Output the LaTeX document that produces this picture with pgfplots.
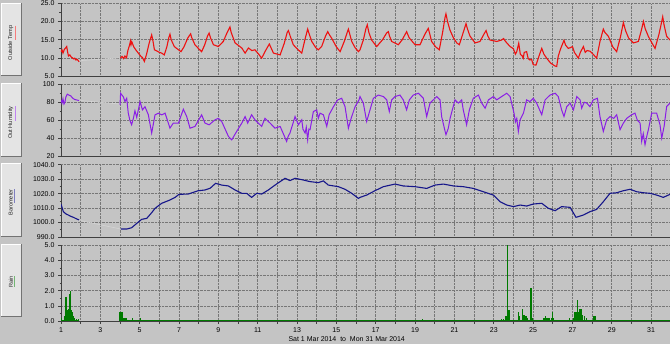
\documentclass[border=0pt]{standalone}
\usepackage{fontspec}
\setmainfont{Liberation Sans}
\usepackage{pgfplots}
\pgfplotsset{compat=1.18}
\definecolor{bg}{HTML}{C4C4C4}
\definecolor{boxbg}{HTML}{E4E4E4}
\definecolor{gridc}{HTML}{777777}
\definecolor{tempc}{HTML}{EE1111}
\definecolor{humc}{HTML}{8A1EE6}
\definecolor{baroc}{HTML}{16168A}
\definecolor{rainc}{HTML}{007A00}
\definecolor{gapc}{HTML}{D4D4D4}
\pgfplotsset{
 panel/.style={
  scale only axis, width=609pt, xmin=1, xmax=31.96,
  axis x line=bottom, axis y line=left,
  axis line style={-, draw=black!75, line width=0.9pt},
  xtick={1,...,31}, xticklabels={},
  x tick style={draw=none},
  grid=major, major grid style={densely dotted, gridc, line width=0.6pt},
  tick align=outside, major tick length=3pt, minor tick length=1.5pt,
  y tick style={black!75, line width=0.6pt},
  minor y tick num=1,
  tick label style={font=\fontsize{7}{8}\selectfont, black},
  /pgf/number format/assume math mode=true,
  yticklabel style={/pgf/number format/fixed, /pgf/number format/fixed zerofill,
    /pgf/number format/precision=1, /pgf/number format/1000 sep={}},
 }
}
\newcommand{\labelbox}[6]{% top, bottom, text, color, underline length, text shift up
  \fill[boxbg] (1pt,-#1pt) rectangle (22pt,-#2pt);
  \draw[white, line width=0.8pt] (1.4pt,-#2pt) -- (1.4pt,-#1pt) -- (22pt,-#1pt);
  \draw[black!55, line width=0.8pt] (1pt,-#2pt) -- (21.6pt,-#2pt) -- (21.6pt,-#1pt);
  \node[rotate=90, font=\fontsize{5.6}{6}\selectfont, inner sep=0pt, text=black!85] (lb) at (10.8pt,-{(#1+#2)/2-#6}pt) {#3};
  \draw[#4!55!white, line width=1.3pt] ([xshift=1.6pt]lb.south east) -- ++(0,-#5pt);
}
\begin{document}
\begin{tikzpicture}
\path[use as bounding box] (0,0) rectangle (670pt,-344pt);
\fill[bg] (0,0) rectangle (670pt,-344pt);
\labelbox{3}{75}{Outside Temp}{tempc}{14}{4}
\labelbox{83}{156}{Out Humidity}{humc}{15}{3}
\labelbox{163}{236}{Barometer}{baroc}{14}{3}
\labelbox{244}{316}{Rain}{rainc}{11}{2}

% ---------- Temperature ----------
\begin{axis}[panel, at={(61pt,-76pt)}, anchor=south west, height=72.7pt,
  ymin=5, ymax=25, ytick={5,10,...,25}]
\addplot[gapc, line width=0.6pt] coordinates {(1.93,9.2) (4.0,10.0)};
\addplot[tempc, line width=1.1pt] coordinates {
(1.00,11.6) (1.05,12.2) (1.10,11.3) (1.17,12.3) (1.22,12.6) (1.29,13.1) (1.34,11.5) (1.38,10.5) (1.45,10.8) (1.52,10.2) (1.58,10.0) (1.65,9.7) (1.70,9.9) (1.76,9.4) (1.82,9.6) (1.88,9.2) (1.92,8.9)};
\addplot[tempc, line width=1.1pt] coordinates {
(4.02,9.9) (4.10,10.4) (4.18,9.8) (4.25,10.5) (4.33,10.0) (4.40,12.0) (4.48,13.4) (4.53,14.6) (4.56,13.6) (4.60,14.4) (4.70,13.0) (4.80,12.2) (4.93,11.3) (5.05,10.5) (5.15,10.0) (5.24,9.0) (5.35,11.0) (5.48,14.0) (5.61,16.3) (5.68,14.5) (5.75,12.2) (5.90,11.8) (6.00,11.5) (6.12,11.3) (6.25,10.8) (6.38,13.0) (6.48,15.5) (6.54,16.5) (6.60,15.0) (6.76,13.1) (6.90,12.5) (7.10,11.7) (7.25,13.0) (7.45,15.5) (7.59,16.6) (7.65,15.5) (7.81,13.6) (8.00,12.5) (8.15,11.7) (8.30,13.5) (8.45,16.0) (8.53,16.8) (8.60,15.5) (8.75,13.6) (9.00,13.1) (9.25,14.5) (9.45,17.0) (9.59,18.5) (9.65,17.0) (9.85,14.1) (10.00,13.5) (10.19,12.7) (10.36,11.3) (10.53,12.7) (10.70,12.0) (10.86,12.2) (11.05,11.0) (11.20,9.9) (11.40,12.0) (11.59,13.8) (11.70,12.5) (11.80,11.3) (12.14,10.8) (12.35,14.0) (12.50,17.0) (12.56,17.5) (12.65,16.0) (12.81,13.6) (13.00,12.5) (13.24,11.3) (13.40,15.0) (13.54,17.9) (13.62,16.5) (13.75,14.5) (13.95,12.8) (14.08,12.2) (14.25,13.1) (14.45,16.0) (14.56,17.2) (14.66,16.2) (14.76,15.4) (15.00,13.0) (15.19,11.7) (15.40,14.5) (15.55,17.0) (15.61,17.9) (15.68,16.5) (15.78,14.5) (15.95,12.8) (16.12,11.7) (16.20,12.2) (16.37,14.9) (16.50,18.0) (16.57,19.1) (16.65,17.0) (16.79,14.9) (17.05,13.1) (17.35,15.0) (17.55,16.8) (17.64,17.2) (17.70,16.0) (17.81,14.5) (18.15,13.6) (18.35,15.0) (18.57,17.2) (18.70,15.5) (19.00,13.6) (19.25,13.6) (19.50,16.5) (19.67,18.1) (19.75,16.5) (19.84,14.5) (20.05,13.0) (20.23,12.2) (20.40,17.0) (20.52,21.0) (20.57,22.1) (20.65,20.0) (20.77,17.7) (20.95,15.5) (21.12,14.1) (21.25,13.6) (21.45,17.0) (21.59,19.4) (21.66,18.0) (21.79,16.0) (22.05,14.1) (22.30,14.5) (22.50,16.5) (22.61,17.5) (22.70,16.0) (22.81,14.9) (23.15,14.5) (23.40,14.9) (23.50,15.3) (23.60,14.5) (23.83,13.1) (24.00,12.5) (24.10,11.0) (24.17,11.7) (24.27,14.0) (24.35,11.0) (24.45,10.5) (24.50,9.9) (24.55,11.5) (24.67,11.7) (24.75,9.8) (24.84,9.4) (24.92,9.6) (25.01,8.1) (25.15,8.0) (25.30,10.5) (25.44,12.6) (25.55,11.0) (25.69,9.9) (25.90,8.5) (26.10,7.8) (26.20,7.6) (26.28,10.5) (26.40,12.5) (26.57,14.8) (26.65,13.5) (26.79,12.6) (26.90,12.8) (27.00,13.1) (27.10,11.5) (27.30,9.9) (27.40,11.5) (27.56,13.1) (27.65,11.5) (27.75,12.0) (27.90,11.8) (28.05,11.0) (28.23,9.9) (28.40,14.5) (28.57,17.9) (28.65,17.0) (28.83,15.9) (29.05,13.0) (29.25,11.7) (29.45,16.0) (29.59,19.7) (29.70,17.5) (29.85,15.5) (30.10,14.1) (30.35,14.5) (30.50,17.5) (30.61,20.0) (30.70,18.0) (30.86,15.9) (31.05,14.0) (31.20,12.6) (31.40,16.5) (31.52,19.5) (31.59,21.3) (31.66,19.0) (31.79,15.9) (31.96,14.9)};
\end{axis}

% ---------- Humidity ----------
\begin{axis}[panel, at={(61pt,-156pt)}, anchor=south west, height=71.7pt,
  ymin=20, ymax=100, ytick={20,40,...,100},
  yticklabel style={/pgf/number format/precision=0}]
\addplot[gapc, line width=0.6pt] coordinates {(1.93,82) (4.0,78)};
\addplot[humc, line width=1pt] coordinates {
(1.00,82.6) (1.05,79) (1.10,84) (1.15,78) (1.20,80) (1.25,86) (1.32,89) (1.40,88) (1.50,87) (1.60,84.4) (1.70,83) (1.80,82.5) (1.92,81.9)};
\addplot[humc, line width=1pt] coordinates {
(4.00,77) (4.03,90) (4.17,86) (4.25,80.7) (4.34,84.4) (4.42,67.8) (4.50,60) (4.59,54.8) (4.68,62) (4.76,70.5) (4.85,63) (5.02,80.7) (5.14,71.5) (5.27,75) (5.44,66) (5.61,45.6) (5.78,65.9) (5.95,67.8) (6.12,65.9) (6.29,67.8) (6.54,51.1) (6.71,56.7) (6.97,56.7) (7.22,72.2) (7.39,64) (7.56,51) (7.81,53) (8.15,65.9) (8.32,56.7) (8.53,54.8) (8.83,60.4) (9.00,62) (9.17,58.5) (9.51,41.9) (9.68,38) (9.93,47.4) (10.19,56.7) (10.36,64) (10.49,56.7) (10.69,66) (10.86,60.4) (11.20,53) (11.37,62) (11.63,56.7) (11.88,51) (12.14,53) (12.30,45) (12.47,36.3) (12.55,42) (12.64,45.6) (12.90,64) (13.07,54.8) (13.24,60.4) (13.30,50) (13.41,45.6) (13.47,52) (13.54,38) (13.60,50) (13.66,49.3) (13.83,69.6) (14.00,71.5) (14.08,62) (14.17,67.8) (14.34,66) (14.51,53) (14.63,66) (14.85,75) (15.07,82.6) (15.27,84.4) (15.44,75) (15.61,51) (15.75,62) (15.95,75) (16.15,82.6) (16.20,86.3) (16.37,79) (16.54,58.5) (16.71,71.5) (16.88,84.4) (17.13,88) (17.39,86.3) (17.56,82.6) (17.69,69.6) (17.81,82.6) (17.98,86.3) (18.23,88) (18.40,82.6) (18.57,71.5) (18.71,82.6) (18.91,88) (19.17,90) (19.42,84.4) (19.59,64) (19.76,79) (20.10,86.3) (20.27,82.6) (20.35,64) (20.50,50) (20.57,43.7) (20.69,51) (20.78,62) (21.03,82.6) (21.20,79) (21.37,82.6) (21.45,71.5) (21.62,54.8) (21.76,71.5) (21.96,84.4) (22.22,88) (22.39,79) (22.56,73.3) (22.73,82.6) (22.98,86.3) (23.15,82.6) (23.40,86.3) (23.66,90) (23.83,86.3) (24.03,67.8) (24.10,58) (24.17,62) (24.25,47.4) (24.34,60.4) (24.51,67.8) (24.67,82.6) (24.84,80.7) (25.01,84.4) (25.18,79) (25.44,66) (25.61,82.6) (25.86,88) (26.12,90) (26.28,86.3) (26.45,71.5) (26.57,64) (26.71,75) (26.88,79) (27.05,71.5) (27.22,86.3) (27.39,82.6) (27.47,73.3) (27.60,80) (27.73,79) (27.89,75) (28.06,82.6) (28.27,84.4) (28.40,64) (28.57,47.4) (28.74,60.4) (28.91,64) (29.10,62) (29.25,66) (29.42,49.3) (29.59,56.7) (29.76,62) (30.01,66) (30.18,67.8) (30.30,60) (30.44,56.7) (30.52,36.3) (30.60,45) (30.69,32.6) (30.78,42) (30.86,49.3) (31.03,67.8) (31.28,67.8) (31.45,55) (31.54,40) (31.66,53) (31.79,75.2) (31.96,78.9)};
\end{axis}

% ---------- Barometer ----------
\begin{axis}[panel, at={(61pt,-237pt)}, anchor=south west, height=72.3pt,
  ymin=990, ymax=1040, ytick={990,1000,...,1040}]
\addplot[gapc, line width=0.6pt] coordinates {(1.93,1001.5) (4.04,995.5)};
\addplot[baroc, line width=1.1pt] coordinates {
(1.00,1012.8) (1.12,1007.5) (1.25,1006) (1.37,1005.2) (1.50,1004.3) (1.63,1003.6) (1.78,1002.6) (1.92,1001.8)};
\addplot[baroc, line width=1.1pt] coordinates {
(4.05,995.5) (4.34,995.5) (4.59,996.4) (4.85,999.4) (5.10,1002.2) (5.36,1002.9) (5.61,1006.8) (5.78,1009.8) (6.12,1013.3) (6.54,1015.6) (6.80,1017.4) (7.00,1019.5) (7.47,1019.7) (7.98,1022.0) (8.32,1022.5) (8.58,1023.7) (8.86,1027.1) (9.17,1025.9) (9.51,1025.3) (9.85,1022.5) (10.19,1020.2) (10.44,1020.2) (10.69,1017.4) (10.95,1020.2) (11.20,1019.7) (11.54,1022.5) (11.88,1025.9) (12.39,1030.6) (12.64,1029.0) (12.90,1030.6) (13.32,1029.4) (13.66,1028.3) (14.08,1027.6) (14.34,1028.8) (14.59,1025.9) (15.10,1024.8) (15.44,1023.0) (15.78,1020.2) (16.12,1016.7) (16.20,1017.4) (16.54,1019.0) (16.96,1022.0) (17.39,1024.8) (17.98,1026.6) (18.40,1025.3) (19.00,1024.8) (19.59,1023.6) (20.01,1025.9) (20.44,1026.6) (20.95,1025.3) (21.45,1024.8) (21.96,1023.6) (22.47,1021.3) (22.98,1019.0) (23.32,1014.4) (23.66,1012.1) (24.00,1011.0) (24.34,1012.1) (24.67,1011.4) (25.01,1012.8) (25.44,1013.3) (25.78,1009.8) (26.12,1008.2) (26.45,1011.0) (26.88,1010.5) (27.18,1003.6) (27.56,1005.2) (27.89,1007.5) (28.23,1009.1) (28.57,1014.4) (28.91,1020.2) (29.25,1020.6) (29.59,1022.0) (29.93,1023.0) (30.27,1021.3) (30.61,1020.6) (30.95,1020.2) (31.28,1019.0) (31.62,1017.4) (31.96,1019.5)};
\end{axis}

% ---------- Rain ----------
\begin{axis}[panel, at={(61pt,-321pt)}, anchor=south west, height=75.7pt,
  ymin=0, ymax=5, ytick={0,1,...,5},
  x tick style={draw=black!75, line width=0.6pt},
  xticklabels={1,,3,,5,,7,,9,,11,,13,,15,,17,,19,,21,,23,,25,,27,,29,,31}]
\addplot[rainc, line width=1pt] coordinates {(1.0,0) (1.93,0)};
\addplot[rainc, line width=1pt] coordinates {(4.0,0) (31.96,0)};
\addplot[ycomb, rainc, line width=1.3pt] coordinates {
(1.02,0.18) (1.20,0.3) (1.22,0.5) (1.25,1.6) (1.28,0.6) (1.31,0.7) (1.35,0.75) (1.38,0.7) (1.41,0.8) (1.44,1.8) (1.46,0.6) (1.50,2.0) (1.53,0.75) (1.56,0.5) (1.60,0.6) (1.64,0.3) (1.70,0.2) (1.78,0.15) (1.88,0.15)
(4.00,0.6) (4.05,0.6) (4.10,0.6) (4.15,0.2) (4.20,0.2) (4.31,0.2) (4.65,0.2) (5.03,0.2)
(19.37,0.15)
(23.40,0.15) (23.50,0.15) (23.58,0.15) (23.63,0.3) (23.71,5.0) (23.78,0.7) (24.25,0.6) (24.32,0.3) (24.47,0.8) (24.54,0.4) (24.64,0.35) (24.71,0.2) (24.90,2.2) (24.95,0.2)
(25.55,0.2) (25.62,0.35) (25.70,0.2) (25.78,0.2) (25.85,0.2) (25.92,0.2) (25.97,0.35) (26.00,0.6) (26.05,0.2)
(26.85,0.2) (27.05,0.2) (27.12,0.6) (27.18,0.6) (27.24,1.4) (27.30,0.6) (27.36,0.8) (27.42,0.8) (27.46,0.8) (27.50,0.4) (27.62,0.3) (27.72,0.2) (28.07,0.3) (28.15,0.35)};
\end{axis}

\node[font=\fontsize{7}{8}\selectfont, text=black] at (346.7pt,-339pt) {Sat 1 Mar 2014\ \ to\ \ Mon 31 Mar 2014};
\end{tikzpicture}
\end{document}
